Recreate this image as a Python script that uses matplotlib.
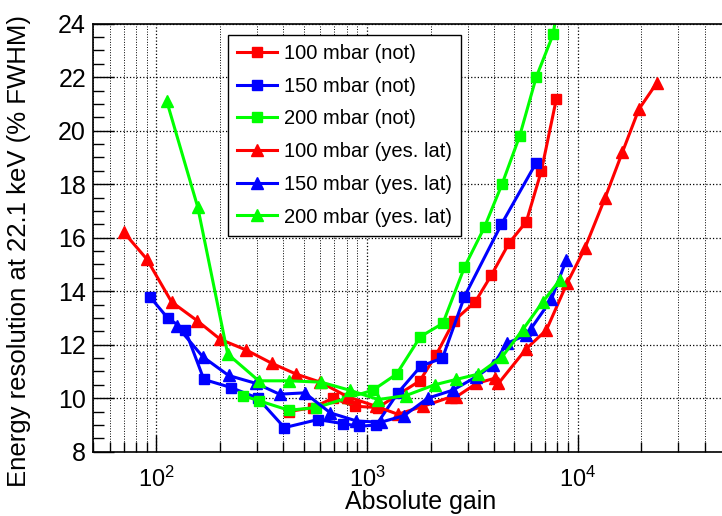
import numpy as np
import matplotlib
matplotlib.use('Agg')
import matplotlib.pyplot as plt
from matplotlib.ticker import LogLocator, MultipleLocator, NullFormatter

plt.rcParams['font.family'] = ['Liberation Sans', 'DejaVu Sans']
plt.rcParams['mathtext.default'] = 'regular'

# gain / resolution values
gain_100_not = [425, 553, 689, 873, 1125, 1780, 2120, 2590, 3260, 3890, 4720, 5700, 6720, 7920]
res_100_not = [9.5, 9.65, 10.0, 9.7, 9.65, 10.65, 11.6, 12.9, 13.6, 14.6, 15.8, 16.6, 18.5, 21.2]

gain_150_not = [93, 113, 137, 168, 226, 303, 405, 583, 770, 920, 1106, 1400, 1800, 2280, 2900, 4340, 6350]
res_150_not = [13.8, 13.0, 12.55, 10.7, 10.4, 10.0, 8.9, 9.2, 9.05, 8.95, 9.0, 10.2, 11.2, 11.5, 13.8, 16.5, 18.8]

# last point lies above the plotted range, only the line leaving the frame is seen
gain_200_not = [257, 308, 425, 575, 800, 1066, 1380, 1790, 2290, 2900, 3610, 4370, 5300, 6350, 7640, 8300]
res_200_not = [10.1, 9.9, 9.55, 9.65, 10.0, 10.3, 10.9, 12.3, 12.8, 14.9, 16.4, 18.0, 19.8, 22.0, 23.6, 25.4]

gain_100_lat = [70, 90, 118, 156, 201, 267, 354, 461, 600, 810, 1100, 1400, 1850, 2500, 2650,
                3300, 4050, 4200, 5700, 7100, 8900, 10800, 13500, 16300, 19500, 23800]
res_100_lat = [16.2, 15.2, 13.6, 12.9, 12.2, 11.8, 11.3, 10.9, 10.6, 10.05, 9.7, 9.4, 9.7, 10.05, 10.05,
               10.55, 10.75, 10.55, 11.85, 12.55, 14.3, 15.6, 17.5, 19.2, 20.8, 21.8]

gain_150_lat = [125, 166, 220, 298, 384, 505, 670, 890, 1160, 1500, 1940, 2550, 3300, 3980, 4600,
                5650, 6000, 7500, 8800]
res_150_lat = [12.7, 11.55, 10.85, 10.55, 10.15, 10.2, 9.45, 9.15, 9.1, 9.35, 10.0, 10.3, 10.8, 11.25, 12.05,
               12.35, 12.6, 13.7, 15.15]

gain_200_lat = [112, 157, 218, 306, 425, 605, 826, 1130, 1530, 2090, 2640, 3370, 4380, 5470, 6820, 8200]
res_200_lat = [21.1, 17.15, 11.65, 10.65, 10.65, 10.6, 10.3, 9.95, 10.1, 10.5, 10.7, 10.9, 11.55, 12.55, 13.6, 14.4]

labels = ['100 mbar (not)', '150 mbar (not)', '200 mbar (not)',
          '100 mbar (yes. lat)', '150 mbar (yes. lat)', '200 mbar (yes. lat)']

fig = plt.figure(figsize=(7.22, 5.16), dpi=100)
ax = fig.add_axes([93/722, 0.1246, 632/722, 0.8295])

series = [
    (gain_100_not, res_100_not, '#ff0000', 's'),
    (gain_150_not, res_150_not, '#0000ff', 's'),
    (gain_200_not, res_200_not, '#00ff00', 's'),
    (gain_100_lat, res_100_lat, '#ff0000', '^'),
    (gain_150_lat, res_150_lat, '#0000ff', '^'),
    (gain_200_lat, res_200_lat, '#00ff00', '^'),
]
for (gx, ry, col, mk), lab in zip(series, labels):
    ms = 7 if mk == 's' else 9
    ax.plot(gx, ry, color=col, marker=mk, markersize=ms, linewidth=2.2,
            markeredgecolor=col, label=lab)

ax.set_xscale('log')
ax.set_xlim(50, 5e4)
ax.set_ylim(8, 24)

ax.xaxis.set_major_locator(LogLocator(base=10))
ax.xaxis.set_minor_locator(LogLocator(base=10, subs=np.arange(2, 10)))
ax.xaxis.set_minor_formatter(NullFormatter())
ax.yaxis.set_major_locator(MultipleLocator(2))
ax.yaxis.set_minor_locator(MultipleLocator(0.5))

ax.grid(True, which='major', axis='both', linestyle=':', color='black', linewidth=0.9)
ax.grid(True, which='minor', axis='x', linestyle=':', color='black', linewidth=0.7)

ax.tick_params(axis='y', which='major', direction='in', length=15, width=1, labelsize=18, pad=5)
ax.tick_params(axis='y', which='minor', direction='in', length=8, width=1)
ax.tick_params(axis='x', which='major', direction='in', length=12, width=1, labelsize=17, pad=11)
ax.tick_params(axis='x', which='minor', direction='in', length=7, width=1)
for sp in ax.spines.values():
    sp.set_linewidth(1.2)

ax.set_xlabel('Absolute gain', fontsize=18)
ax.set_ylabel('Energy resolution at 22.1 keV (% FWHM)', fontsize=18.5)
ax.xaxis.set_label_coords((421 - 93) / 632, -0.09)
ax.yaxis.set_label_coords((31 - 93) / 632, 0.47)

leg = ax.legend(loc='upper left', bbox_to_anchor=((228 - 93) / 632, (451.7 - 35) / 428),
                fontsize=14.5, handlelength=2.0, handletextpad=0.35, labelspacing=0.68,
                borderpad=0.45, borderaxespad=0, fancybox=False, framealpha=1, edgecolor='black')
leg.get_frame().set_linewidth(1.0)

fig.savefig('out.png', dpi=100)
